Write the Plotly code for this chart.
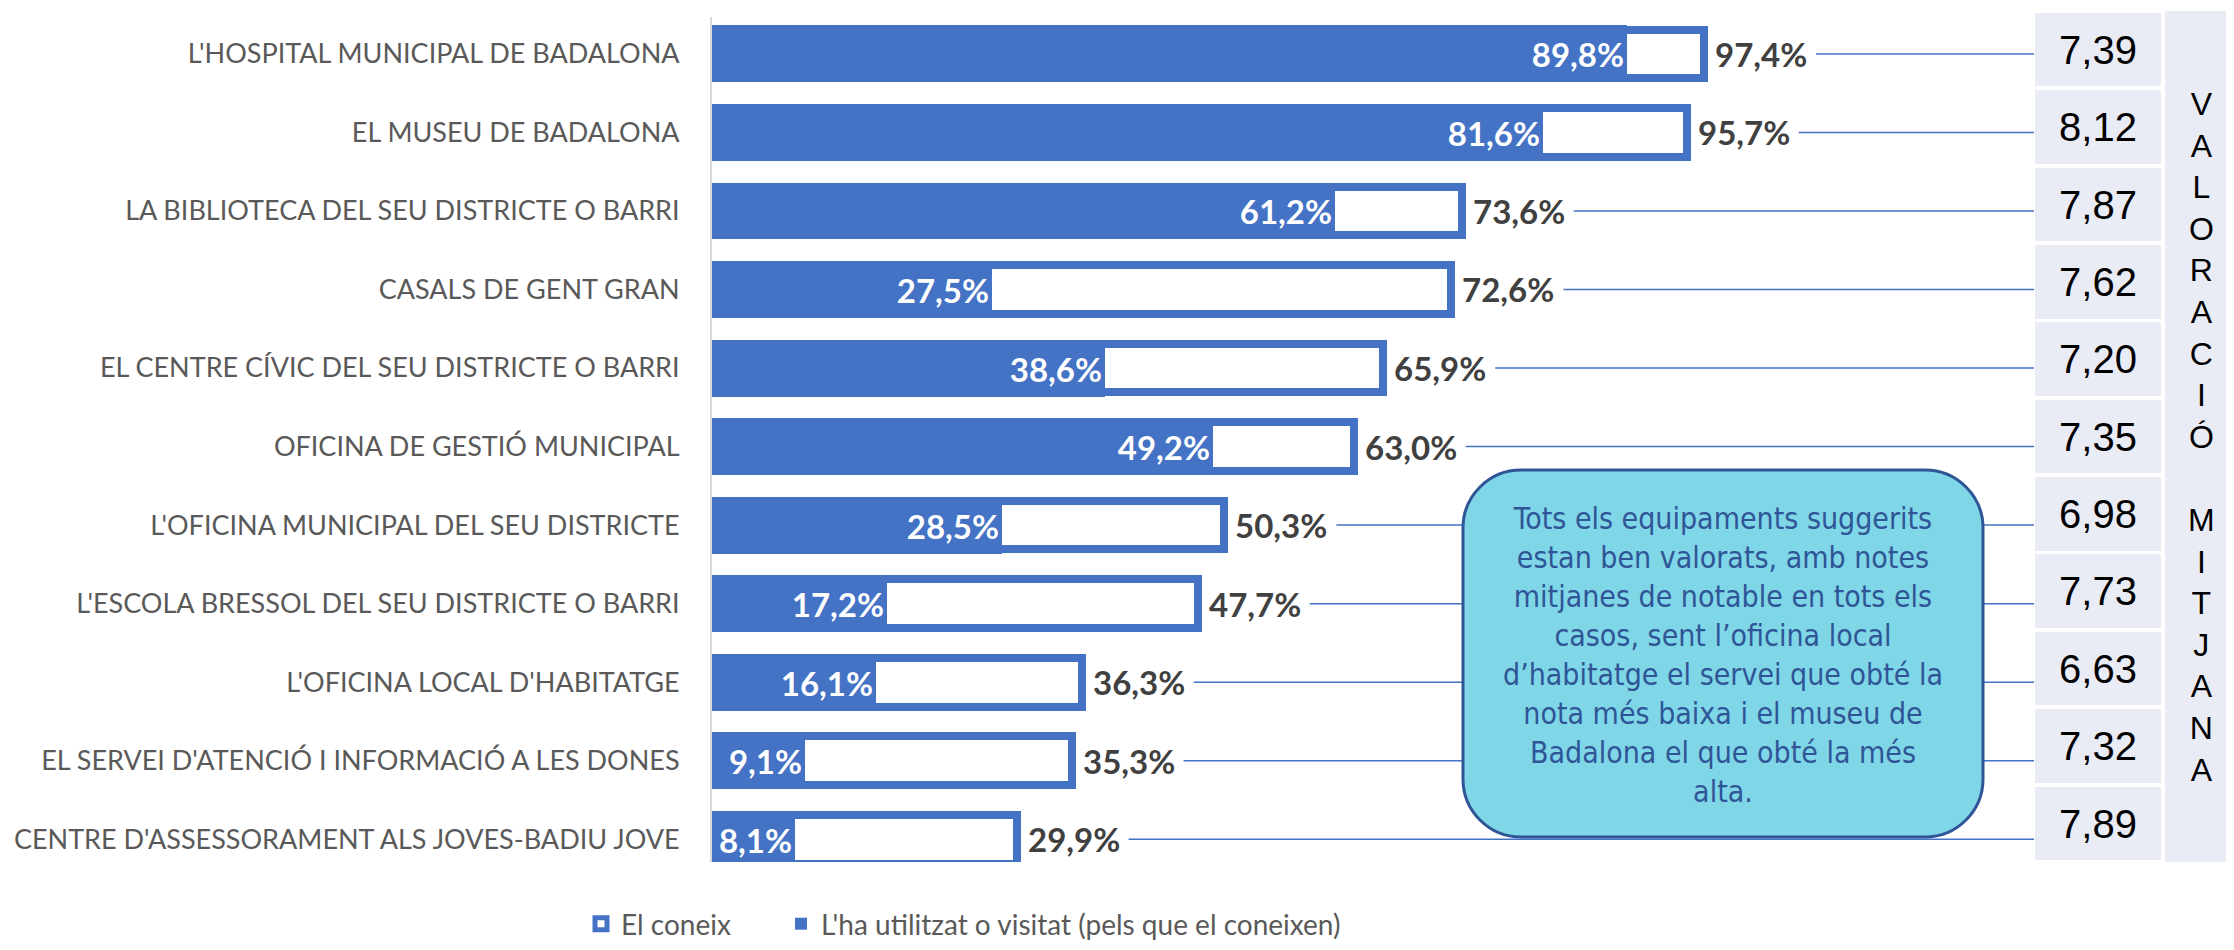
import plotly.graph_objects as go

# ---------------- data ----------------
categories = [
    "L'HOSPITAL MUNICIPAL DE BADALONA",
    "EL MUSEU DE BADALONA",
    "LA BIBLIOTECA DEL SEU DISTRICTE O BARRI",
    "CASALS DE GENT GRAN",
    "EL CENTRE CÍVIC DEL SEU DISTRICTE O BARRI",
    "OFICINA DE GESTIÓ MUNICIPAL",
    "L'OFICINA MUNICIPAL DEL SEU DISTRICTE",
    "L'ESCOLA BRESSOL DEL SEU DISTRICTE O BARRI",
    "L'OFICINA LOCAL D'HABITATGE",
    "EL SERVEI D'ATENCIÓ I INFORMACIÓ A LES DONES",
    "CENTRE D'ASSESSORAMENT ALS JOVES-BADIU JOVE",
]
el_coneix = [97.4, 95.7, 73.6, 72.6, 65.9, 63.0, 50.3, 47.7, 36.3, 35.3, 29.9]
utilitzat = [89.8, 81.6, 61.2, 27.5, 38.6, 49.2, 28.5, 17.2, 16.1, 9.1, 8.1]
valoracio = [7.39, 8.12, 7.87, 7.62, 7.20, 7.35, 6.98, 7.73, 6.63, 7.32, 7.89]

series_names = ["El coneix", "L'ha utilitzat o visitat (pels que el coneixen)"]
table_title = "VALORACIÓ MITJANA"
note_lines = [
    "Tots els equipaments suggerits",
    "estan ben valorats, amb notes",
    "mitjanes de notable en tots els",
    "casos, sent l’oficina local",
    "d’habitatge el servei que obté la",
    "nota més baixa i el museu de",
    "Badalona el que obté la més",
    "alta.",
]

# ---------------- styling / layout constants ----------------
PAGE_W, PAGE_H = 2234, 950
OFF = 8                      # default body margin of the html page
W, H = PAGE_W - 2 * OFF, PAGE_H - 2 * OFF
BLUE = "#4472C4"
LAVENDER = "#E9EBF5"
BOX_FILL = "#7FD6E6"
BOX_LINE = "#2F5597"
XMAX = 129.8          # axis range end (table edge)
LEADER_GAP = 11.0     # room for the outside label before the leader line


def fx(p):
    return (p - OFF) / W


def fy(p):
    return 1 - (p - OFF) / H


def pct(v):
    return f"{v:.1f}%".replace(".", ",")


def dec(v):
    return f"{v:.2f}".replace(".", ",")


def rounded_rect(x0, y0, x1, y1, r):
    k = 0.5523 * r
    pts = [
        ("M", [(x0 + r, y0)]),
        ("L", [(x1 - r, y0)]),
        ("C", [(x1 - r + k, y0), (x1, y0 + r - k), (x1, y0 + r)]),
        ("L", [(x1, y1 - r)]),
        ("C", [(x1, y1 - r + k), (x1 - r + k, y1), (x1 - r, y1)]),
        ("L", [(x0 + r, y1)]),
        ("C", [(x0 + r - k, y1), (x0, y1 - r + k), (x0, y1 - r)]),
        ("L", [(x0, y0 + r)]),
        ("C", [(x0, y0 + r - k), (x0 + r - k, y0), (x0 + r, y0)]),
    ]
    s = ""
    for cmd, ps in pts:
        s += cmd + " ".join(f"{fx(a):.6f},{fy(b):.6f}" for a, b in ps) + " "
    return s + "Z"


fig = go.Figure()

# leader lines from each outside label to the table
lx, ly = [], []
for c, v in zip(categories, el_coneix):
    lx += [v + LEADER_GAP, XMAX, None]
    ly += [c, c, None]
fig.add_trace(go.Scatter(
    x=lx, y=ly, mode="lines", line=dict(color=BLUE, width=1.5),
    showlegend=False, hoverinfo="skip", xaxis="x", yaxis="y",
))

# outer bar: "El coneix"
fig.add_trace(go.Bar(
    orientation="h", y=categories, x=el_coneix, name=series_names[0],
    width=0.62,
    marker=dict(color="white", line=dict(color=BLUE, width=8)),
    xaxis="x", yaxis="y", legend="legend",
))

# inner bar: "L'ha utilitzat o visitat"
fig.add_trace(go.Bar(
    orientation="h", y=categories, x=utilitzat, name=series_names[1],
    width=0.725,
    marker=dict(color=BLUE, line=dict(width=0)),
    text=[pct(v) for v in utilitzat], textposition="inside",
    insidetextanchor="end", constraintext="none",
    textfont=dict(family="Lato", size=33, color="white", weight="bold"),
    xaxis="x", yaxis="y", legend="legend2",
))

# table of average ratings
fig.add_trace(go.Bar(
    orientation="h", y=categories, x=[1 for _ in valoracio],
    width=0.95, marker=dict(color=LAVENDER, line=dict(width=0)),
    text=[dec(v) for v in valoracio], textposition="inside",
    insidetextanchor="middle", constraintext="none", textangle=0,
    textfont=dict(family="Liberation Sans, Arial", size=40, color="black"),
    showlegend=False, hoverinfo="skip", xaxis="x2", yaxis="y2",
))

shapes = [
    dict(type="rect", xref="paper", yref="paper",
         x0=fx(2165), x1=fx(2240), y0=fy(862), y1=fy(11),
         fillcolor=LAVENDER, line=dict(width=0), layer="below"),
    dict(type="path", xref="paper", yref="paper",
         path=rounded_rect(1463, 470, 1983, 837, 58),
         fillcolor=BOX_FILL, line=dict(color=BOX_LINE, width=3), layer="above"),
]

annotations = []
# outside labels for "El coneix"
for c, v in zip(categories, el_coneix):
    annotations.append(dict(
        xref="x", yref="y", x=v, y=c, text=pct(v), showarrow=False,
        xanchor="left", yanchor="middle", xshift=9,
        font=dict(family="Lato", size=33, color="#404040", weight="bold"),
    ))

letters = "<br>".join(ch if ch != " " else "\u00a0" for ch in table_title)
annotations += [
    dict(xref="paper", yref="paper", x=fx(2201), y=fy(437),
         text=letters, showarrow=False, xanchor="center", yanchor="middle",
         font=dict(family="Liberation Sans, Arial", size=32, color="black")),
    dict(xref="paper", yref="paper", x=fx(1723), y=fy(655),
         text="<br>".join(note_lines), showarrow=False, align="center",
         xanchor="center", yanchor="middle",
         font=dict(family="DejaVu Sans Condensed, DejaVu Sans", size=30, color=BOX_LINE)),
]

legend_common = dict(orientation="h", y=fy(924), xref="container", yref="container",
                     xanchor="left", yanchor="middle",
                     font=dict(family="Lato", size=28, color="#595959"),
                     bgcolor="rgba(0,0,0,0)", borderwidth=0)

fig.update_layout(
    width=W, height=H, autosize=False,
    margin=dict(l=0, r=0, t=0, b=0, pad=0, autoexpand=False),
    paper_bgcolor="white", plot_bgcolor="rgba(0,0,0,0)",
    barmode="overlay", bargap=0,
    font=dict(family="Lato", color="#595959"),
    xaxis=dict(domain=[fx(712), fx(2034)], range=[0, XMAX], visible=False,
               fixedrange=True, automargin=False),
    yaxis=dict(domain=[fy(862), fy(17)], type="category",
               categoryarray=categories, range=[10.29, -0.47],
               showline=True, linecolor="#D9D9D9", linewidth=2,
               showgrid=False, zeroline=False, ticks="",
               ticklabelstandoff=25, automargin=False,
               tickfont=dict(family="Lato", size=27, color="#595959")),
    xaxis2=dict(domain=[fx(2035), fx(2161)], range=[0, 1], visible=False,
                anchor="y2", automargin=False),
    yaxis2=dict(domain=[fy(862), fy(11)], type="category",
                categoryarray=categories, range=[10.5, -0.5], visible=False,
                anchor="x2", automargin=False),
    legend=dict(x=fx(581), **legend_common),
    legend2=dict(x=fx(781), **legend_common),
    shapes=shapes,
    annotations=annotations,
    showlegend=True,
)

fig.write_html("out.html")
